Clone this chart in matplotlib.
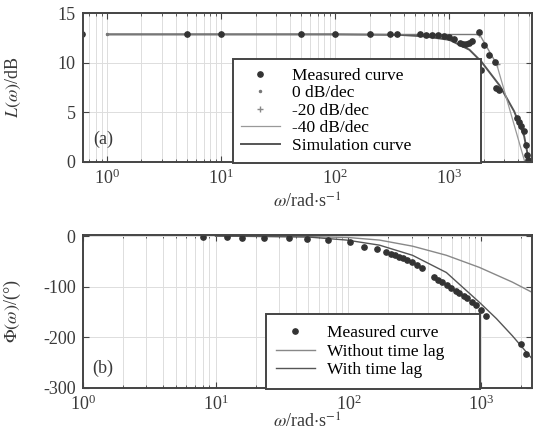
import numpy as np
import matplotlib
matplotlib.use('Agg')
import matplotlib.pyplot as plt
from matplotlib.lines import Line2D

plt.rcParams['font.family'] = ['Liberation Serif', 'DejaVu Serif']
plt.rcParams['mathtext.fontset'] = 'stix'
plt.rcParams['axes.unicode_minus'] = False
plt.rcParams['font.size'] = 13

# (a) magnitude
mag_w = [0.6, 5, 10, 50, 100, 200, 300, 350, 550, 620, 700, 800, 900, 1000, 1110, 1230, 1320,
         1410, 1500, 1590, 1830, 2030, 2250, 2490, 1910, 2570, 2730, 3930, 4100, 4260, 4530,
         4720, 4810, 4910]
mag_L = [12.85, 12.85, 12.85, 12.85, 12.85, 12.85, 12.85, 12.85, 12.85, 12.8, 12.8, 12.8, 12.7,
         12.6, 12.4, 12.0, 11.9, 11.9, 12.0, 12.2, 13.05, 11.8, 10.8, 10.1, 9.25, 7.4, 7.2, 4.4,
         4.0, 3.6, 3.1, 1.7, 0.7, 0.2]
asym0_w = [1, 1830]
asym0_L = [12.9, 12.9]
asym20_w = [1830, 2600]
asym20_L = [12.9, 9.85]
asym40_w = [2600, 5300]
asym40_L = [9.85, -2.5]
sim_w = [1, 100, 366, 600, 1000, 1500, 1910, 2760, 3700, 4530, 5000]
sim_L = [12.85, 12.85, 12.8, 12.65, 12.3, 11.3, 10.1, 7.7, 5.1, 2.6, 0]

# (b) phase
ph_w = [8.1, 12.1, 15.7, 23, 36, 49, 70, 102, 132, 163, 193, 208, 222, 238, 255, 275, 298, 325,
        360, 443, 475, 509, 550, 595, 640, 684, 735, 785, 850, 916, 1000, 1091, 2000, 2180]
ph = [-2, -2, -3, -4, -4, -6, -8, -12, -22, -26, -32, -35, -38, -41, -44, -48, -52, -58, -64,
      -81, -86, -91, -97, -103, -108, -113, -118, -123, -130, -137, -147, -157, -213, -233]
nolag_w = [10, 50, 100, 171, 303, 545, 967, 1711, 2400]
nolag_ph = [0, -1, -3, -8, -20, -38, -62, -91, -111]
lag_w = [10, 50, 97, 171, 303, 545, 967, 1297, 1711, 2400]
lag_ph = [0, -2, -8, -18, -38, -72, -131, -163, -197, -242]

fig = plt.figure(figsize=(5.33, 4.34), dpi=100)
ax1 = fig.add_axes([0.155, 0.627, 0.843, 0.343])
ax2 = fig.add_axes([0.155, 0.106, 0.843, 0.3525])

spine_c = '#444444'
txt_c = '#3a3a3a'
for ax in (ax1, ax2):
    ax.set_xscale('log')
    ax.grid(True, which='both', axis='x', color='#dddddd', lw=0.7)
    ax.grid(True, which='major', axis='y', color='#dddddd', lw=0.7)
    ax.tick_params(which='both', direction='in', top=True, right=True, colors=spine_c,
                   labelcolor=txt_c, labelsize=13)
    ax.tick_params(which='major', length=4, pad=5)
    ax.tick_params(which='minor', length=2)
    for s in ax.spines.values():
        s.set_color(spine_c)
        s.set_linewidth(1.4)
    ax.set_axisbelow(True)

mcol = '#333333'
ax1.plot(sim_w, sim_L, color='#555555', lw=1.4)
ax1.plot(asym0_w, asym0_L, color='#777777', lw=1.0, marker='.', ms=3, markevery=[0])
ax1.plot(asym20_w, asym20_L, color='#888888', lw=1.0, marker='+', ms=4)
ax1.plot(asym40_w, asym40_L, color='#999999', lw=0.9)
ax1.plot(mag_w, mag_L, ls='none', marker='o', ms=3.8, color=mcol)
ax1.set_xlim(0.61, 5300)
ax1.set_ylim(0, 15)
ax1.set_yticks([0, 5, 10, 15])
ax1.set_xticks([1, 10, 100, 1000])
ax1.set_ylabel(r'$L(\omega)$/dB', fontsize=13, color=txt_c)
ax1.yaxis.set_label_coords(-0.133, 0.5)
ax1.set_xlabel(r'$\omega$/rad$\cdot$s$^{-1}$', fontsize=13, color=txt_c, labelpad=3)
ax1.text(0.045, 0.15, '(a)', transform=ax1.transAxes, fontsize=13, color=txt_c,
         ha='center', va='center')

h1 = [Line2D([], [], ls='none', marker='o', ms=3.8, color=mcol),
      Line2D([], [], ls='none', marker='.', ms=3, color='#777777'),
      Line2D([], [], ls='none', marker='+', ms=4, color='#888888'),
      Line2D([], [], color='#999999', lw=0.9),
      Line2D([], [], color='#555555', lw=1.4)]
l1 = ['Measured curve', '0 dB/dec', '-20 dB/dec', '-40 dB/dec', 'Simulation curve']
leg1 = ax1.legend(h1, l1, loc='lower left', bbox_to_anchor=(0.334, -0.005, 0.553, 0.7),
                  mode='expand', borderaxespad=0, fontsize=12.5, labelspacing=0.08,
                  handlelength=2.2, handletextpad=0.7, borderpad=0.5, fancybox=False,
                  framealpha=1, edgecolor=spine_c)
leg1.get_frame().set_linewidth(1.4)

ax2.plot(nolag_w, nolag_ph, color='#888888', lw=1.0, label='Without time lag')
ax2.plot(lag_w, lag_ph, color='#555555', lw=1.0, label='With time lag')
ax2.plot(ph_w, ph, ls='none', marker='o', ms=3.8, color=mcol, label='Measured curve')
ax2.set_xlim(1, 2400)
ax2.set_ylim(-300, 2)
ax2.set_yticks([-300, -200, -100, 0])
ax2.set_xticks([1, 10, 100, 1000])
ax2.set_ylabel(r'$\Phi(\omega)$/(°)', fontsize=13, color=txt_c)
ax2.yaxis.set_label_coords(-0.133, 0.5)
ax2.set_xlabel(r'$\omega$/rad$\cdot$s$^{-1}$', fontsize=13, color=txt_c, labelpad=-1)
ax2.text(0.045, 0.13, '(b)', transform=ax2.transAxes, fontsize=13, color=txt_c,
         ha='center', va='center')

hh, ll = ax2.get_legend_handles_labels()
order = [2, 0, 1]
leg2 = ax2.legend([hh[i] for i in order], [ll[i] for i in order], loc='lower left',
                  bbox_to_anchor=(0.408, -0.005, 0.477, 0.49), mode='expand',
                  borderaxespad=0, fontsize=12.5, labelspacing=0.15, handlelength=2.2,
                  handletextpad=0.7, borderpad=0.6, fancybox=False, framealpha=1,
                  edgecolor=spine_c)
leg2.get_frame().set_linewidth(1.4)

fig.savefig('out.png', dpi=100)
